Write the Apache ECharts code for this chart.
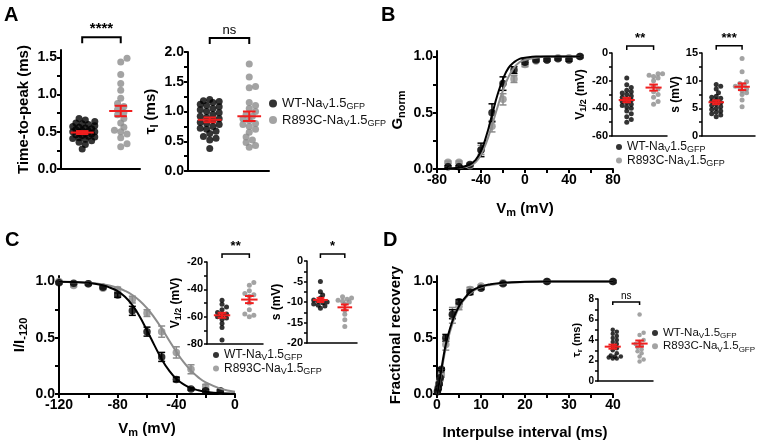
<!DOCTYPE html>
<html>
<head>
<meta charset="utf-8">
<script src="https://cdn.jsdelivr.net/npm/echarts@6/dist/echarts.min.js"></script>
<style>
  html, body { margin: 0; padding: 0; background: #fff; }
  #chart { width: 760px; height: 444px; }
</style>
</head>
<body>
<div id="chart"></div>
<script>
const FONT = '"Liberation Sans", Arial, sans-serif';
const BLACK = '#000000';
const GRAY = '#8c8c8c';
const RED = '#f01e1e';
const groups = ['WT', 'R893C'];

// ---- A: time-to-peak and tau_I (ms) ----
const ttpWT = [0.27, 0.33, 0.36, 0.38, 0.40, 0.41, 0.42, 0.43, 0.44, 0.45, 0.46, 0.47, 0.48, 0.49, 0.50,
  0.50, 0.51, 0.52, 0.53, 0.54, 0.55, 0.56, 0.57, 0.58, 0.60, 0.61, 0.62, 0.64, 0.66, 0.68];
const ttpR = [1.49, 1.44, 1.27, 1.15, 1.06, 0.95, 0.88, 0.84, 0.80, 0.76, 0.73, 0.68, 0.62, 0.56, 0.52,
  0.50, 0.47, 0.42, 0.34, 0.30];
const ttpMean = [0.49, 0.78];
const ttpSem = [0.02, 0.07];
const tauIWT = [1.20, 1.18, 1.17, 1.15, 1.12, 1.10, 1.08, 1.05, 1.03, 1.00, 0.98, 0.95, 0.92, 0.90, 0.88,
  0.85, 0.82, 0.80, 0.78, 0.75, 0.72, 0.70, 0.67, 0.63, 0.58, 0.55, 0.52, 0.38];
const tauIR = [1.80, 1.58, 1.42, 1.40, 1.15, 1.10, 1.05, 1.00, 0.95, 0.92, 0.88, 0.85, 0.80, 0.78, 0.75,
  0.70, 0.65, 0.57, 0.52, 0.48, 0.43, 0.40];
const tauIMean = [0.86, 0.92];
const tauISem = [0.04, 0.08];

// ---- B: activation ----
const actV = [-70, -60, -50, -40, -30, -20, -10, 0, 10, 20, 30, 40, 50];
const actWT = [0.02, 0.02, 0.04, 0.17, 0.50, 0.76, 0.88, 0.95, 0.97, 0.97, 0.98, 0.97, 1.00];
const actWTerr = [0.01, 0.01, 0.01, 0.06, 0.08, 0.06, 0.03, 0.02, 0.01, 0.01, 0.01, 0.01, 0.01];
const actR = [0.06, 0.06, 0.03, 0.17, 0.38, 0.62, 0.80, 0.93, 0.96, 0.97, 0.99, 0.99, 1.00];
const actRerr = [0.01, 0.01, 0.01, 0.04, 0.05, 0.05, 0.03, 0.02, 0.01, 0.01, 0.01, 0.01, 0.01];
const actFitV = [-70, -60, -50, -45, -40, -35, -30, -25, -20, -15, -10, -5, 0, 10, 20, 30, 40, 50];
const actFitWT = [0.005, 0.012, 0.04, 0.08, 0.16, 0.30, 0.48, 0.66, 0.80, 0.90, 0.95, 0.98, 0.99, 1.0, 1.0, 1.0, 1.0, 1.0];
const actFitR = [0.004, 0.01, 0.03, 0.06, 0.13, 0.24, 0.39, 0.55, 0.70, 0.82, 0.90, 0.95, 0.97, 0.99, 1.0, 1.0, 1.0, 1.0];
const actV12WT = [-18, -23, -25, -27, -28, -29, -30, -31, -32, -33, -34, -35, -36, -37, -38, -39, -40, -42, -44, -46, -48, -50];
const actV12R = [-15, -15, -16, -17, -18, -20, -24, -26, -28, -30, -32, -35, -37];
const actV12Mean = [-34, -25];
const actV12Sem = [1.6, 2.2];
const actSWT = [9.3, 9.0, 8.5, 7.8, 7.2, 7.0, 6.8, 6.5, 6.3, 6.0, 5.8, 5.5, 5.3, 5.0, 4.8, 4.5, 4.3, 4.0, 3.8, 3.5];
const actSR = [14.0, 11.6, 9.8, 9.5, 9.2, 9.0, 8.8, 8.5, 8.2, 7.8, 7.5, 6.5, 5.3];
const actSMean = [6.1, 8.9];
const actSSem = [0.35, 0.6];

// ---- C: steady-state inactivation ----
const inaV = [-120, -110, -100, -90, -80, -70, -60, -50, -40, -30, -20, -10];
const inaWT = [0.99, 0.985, 0.98, 0.95, 0.88, 0.74, 0.555, 0.33, 0.13, 0.045, 0.03, 0.027];
const inaWTerr = [0.01, 0.01, 0.01, 0.01, 0.02, 0.04, 0.04, 0.04, 0.02, 0.01, 0.01, 0.01];
const inaR = [1.0, 0.965, 0.98, 0.94, 0.93, 0.84, 0.72, 0.555, 0.37, 0.22, 0.065, 0.03];
const inaRerr = [0.01, 0.01, 0.01, 0.01, 0.02, 0.03, 0.03, 0.05, 0.05, 0.04, 0.02, 0.01];
const inaFitV = [-120, -110, -100, -90, -85, -80, -75, -70, -65, -60, -55, -50, -45, -40, -35, -30, -25, -20, -10, 0];
const inaFitWT = [0.999, 0.996, 0.989, 0.968, 0.945, 0.915, 0.865, 0.79, 0.69, 0.565, 0.435, 0.31, 0.21, 0.135, 0.085, 0.053, 0.033, 0.02, 0.007, 0.003];
const inaFitR = [0.998, 0.995, 0.989, 0.975, 0.963, 0.944, 0.918, 0.881, 0.83, 0.763, 0.68, 0.584, 0.479, 0.376, 0.283, 0.208, 0.148, 0.104, 0.048, 0.021];
const inaV12WT = [-48, -51, -53, -55, -57, -58, -59, -60, -61, -62, -65, -68, -77];
const inaV12R = [-35, -37, -41, -43, -44, -45, -50, -55, -58, -59, -60];
const inaV12Mean = [-59, -47.5];
const inaV12Sem = [1.8, 2.6];
const inaSWT = [-5, -7.5, -8.3, -9, -9.5, -9.8, -10, -10.2, -10.5, -10.8, -11, -11.5];
const inaSR = [-8.7, -9, -9.3, -9.6, -9.8, -10, -10.5, -12, -13, -14.3, -16];
const inaSMean = [-9.5, -11.3];
const inaSSem = [0.5, 0.7];

// ---- D: recovery from inactivation ----
const recT = [0.1, 0.3, 0.5, 0.7, 1, 2, 3.5, 5, 7.5, 10, 15, 25, 40];
const recWT = [0.02, 0.05, 0.09, 0.145, 0.22, 0.50, 0.71, 0.82, 0.905, 0.94, 0.98, 1.0, 1.0];
const recWTerr = [0.01, 0.01, 0.01, 0.01, 0.01, 0.03, 0.04, 0.02, 0.02, 0.01, 0.01, 0.01, 0.01];
const recR = [0.03, 0.06, 0.10, 0.13, 0.17, 0.44, 0.70, 0.78, 0.93, 0.96, 0.99, 1.0, 1.0];
const recRerr = [0.01, 0.01, 0.01, 0.01, 0.02, 0.05, 0.07, 0.03, 0.02, 0.01, 0.01, 0.01, 0.01];
const recFitT = [0.1, 0.5, 1, 1.5, 2, 3, 4, 5, 6, 8, 10, 12, 15, 20, 25, 40];
const recFitWT = [0.0, 0.10, 0.22, 0.34, 0.44, 0.59, 0.70, 0.78, 0.84, 0.92, 0.955, 0.975, 0.99, 0.998, 1.0, 1.0];
const recFitR = [0.0, 0.09, 0.20, 0.31, 0.41, 0.56, 0.68, 0.77, 0.83, 0.91, 0.95, 0.97, 0.985, 0.997, 1.0, 1.0];
const tauRWT = [5.0, 4.8, 4.6, 4.4, 4.2, 4.0, 3.8, 3.6, 3.4, 3.2, 3.0, 2.7, 2.5, 2.4, 2.4, 2.3, 2.2, 2.2];
const tauRR = [6.5, 4.7, 4.5, 4.0, 3.8, 3.6, 3.5, 3.3, 3.1, 2.9, 2.7, 2.4, 2.1, 1.9];
const tauRMean = [3.35, 3.65];
const tauRSem = [0.2, 0.3];

const grids = [], xAxes = [], yAxes = [], series = [];

function rich(fs, bold) {
  const w = bold ? 'bold' : 'normal';
  const sub = Math.round(fs * 0.72);
  return {
    n: { fontSize: fs, fontWeight: w, fontFamily: FONT, color: '#000', lineHeight: fs + 3, verticalAlign: 'middle' },
    s: { fontSize: sub, fontWeight: w, fontFamily: FONT, color: '#000', lineHeight: sub, verticalAlign: 'bottom' }
  };
}

function steps(min, max, step) {
  const out = [];
  const start = Math.ceil(min / step - 1e-9) * step;
  for (let v = start; v <= max + 1e-9; v += step) out.push(Math.round(v * 1000) / 1000);
  return out;
}

function axis(gi, c) {
  const lw = c.lw || 2;
  const a = {
    gridIndex: gi, type: 'value', min: c.min, max: c.max,
    axisLine: { show: true, onZero: false, lineStyle: { color: '#000', width: lw } },
    splitLine: { show: false },
    axisTick: { show: !!c.major, length: c.tl || 4, lineStyle: { color: '#000', width: lw } },
    axisLabel: {
      show: !!c.major, fontSize: c.fs || 14, fontWeight: 'bold', fontFamily: FONT, color: '#000',
      margin: c.margin || 4, formatter: v => v.toFixed(c.dec || 0)
    }
  };
  if (c.major) {
    a.axisTick.customValues = steps(c.min, c.max, c.minor);
    a.axisLabel.customValues = steps(c.min, c.max, c.major);
  }
  if (c.name) {
    a.name = c.name;
    a.nameLocation = 'middle';
    a.nameGap = c.gap;
    a.nameTextStyle = { fontSize: c.nfs, fontWeight: 'bold', fontFamily: FONT, color: '#000', rich: rich(c.nfs, true) };
  }
  return a;
}

function addGrid(box, xc, yc) {
  const gi = grids.length;
  grids.push({ left: box[0], top: box[1], width: box[2], height: box[3] });
  xAxes.push(axis(gi, xc));
  yAxes.push(axis(gi, yc));
  return gi;
}

// beeswarm layout of one column (horizontal offsets only, values unchanged)
function swarm(values, center, pxX, pxY, d) {
  const order = values.map((v, i) => i).sort((a, b) => values[a] - values[b]);
  const placed = [];
  const out = new Array(values.length);
  const step = d * 0.45, need = d * 0.72, maxK = 7;
  order.forEach(i => {
    const y = values[i] * pxY;
    let best = 0, bestGap = -1;
    for (let k = 0; k <= maxK; k++) {
      const off = (k % 2 ? 1 : -1) * Math.ceil(k / 2) * step;
      const gap = placed.reduce((m, p) => Math.min(m, Math.hypot(p[0] - off, p[1] - y)), Infinity);
      if (gap >= need) { best = off; bestGap = gap; break; }
      if (gap > bestGap) { best = off; bestGap = gap; }
    }
    placed.push([best, y]);
    out[i] = [center + best / pxX, values[i]];
  });
  return out;
}

function meanSem(gi, means, sems, lw) {
  return {
    type: 'custom', xAxisIndex: gi, yAxisIndex: gi, z: 10, silent: true,
    data: means.map((m, i) => [i + 1, m, sems[i]]),
    renderItem(params, api) {
      const x = api.value(0), m = api.value(1), s = api.value(2);
      const c = api.coord([x, m]), hi = api.coord([x, m + s]), lo = api.coord([x, m - s]);
      const u = api.size([1, 0])[0];
      const mw = u * 0.3, cw = u * 0.16;
      const st = { stroke: RED, lineWidth: lw };
      return {
        type: 'group', children: [
          { type: 'line', shape: { x1: c[0] - mw, y1: c[1], x2: c[0] + mw, y2: c[1] }, style: st },
          { type: 'line', shape: { x1: c[0], y1: hi[1], x2: c[0], y2: lo[1] }, style: st },
          { type: 'line', shape: { x1: c[0] - cw, y1: hi[1], x2: c[0] + cw, y2: hi[1] }, style: st },
          { type: 'line', shape: { x1: c[0] - cw, y1: lo[1], x2: c[0] + cw, y2: lo[1] }, style: st }
        ]
      };
    }
  };
}

function bracket(gi, yv, leg, label, fs, bold, lw) {
  return {
    type: 'custom', xAxisIndex: gi, yAxisIndex: gi, silent: true, z: 5,
    data: [[1, 2, yv]],
    renderItem(params, api) {
      const a = api.coord([api.value(0), api.value(2)]);
      const b = api.coord([api.value(1), api.value(2)]);
      return {
        type: 'group', children: [
          { type: 'polyline', shape: { points: [[a[0], a[1] + leg], [a[0], a[1]], [b[0], b[1]], [b[0], b[1] + leg]] },
            style: { stroke: '#000', lineWidth: lw, fill: null } },
          { type: 'text', x: (a[0] + b[0]) / 2, y: a[1] - 1,
            style: { text: label, fontSize: fs, fontWeight: bold ? 'bold' : 'normal', fontFamily: FONT,
              fill: '#000', align: 'center', verticalAlign: 'bottom' } }
        ]
      };
    }
  };
}

function dotPanel(box, yc, wt, r, mean, sem, dot, br) {
  const gi = addGrid(box, { min: 0.45, max: 2.5, lw: yc.lw }, yc);
  const pxX = box[2] / 2.05, pxY = box[3] / (yc.max - yc.min);
  series.push({ name: 'WT', type: 'scatter', xAxisIndex: gi, yAxisIndex: gi, symbolSize: dot,
    itemStyle: { color: BLACK }, data: swarm(wt, 1, pxX, pxY, dot) });
  series.push({ name: 'R893C', type: 'scatter', xAxisIndex: gi, yAxisIndex: gi, symbolSize: dot,
    itemStyle: { color: GRAY }, data: swarm(r, 2, pxX, pxY, dot) });
  series.push(meanSem(gi, mean, sem, 2));
  series.push(bracket(gi, br.y, br.leg, br.text, br.fs, br.bold, yc.lw || 2));
}

function errBars(gi, xs, ys, es, color) {
  return {
    type: 'custom', xAxisIndex: gi, yAxisIndex: gi, silent: true,
    data: xs.map((x, i) => [x, ys[i], es[i]]),
    renderItem(params, api) {
      const x = api.value(0), y = api.value(1), e = api.value(2);
      const hi = api.coord([x, y + e]), lo = api.coord([x, y - e]);
      const st = { stroke: color, lineWidth: 1.5 };
      return {
        type: 'group', children: [
          { type: 'line', shape: { x1: hi[0], y1: hi[1], x2: lo[0], y2: lo[1] }, style: st },
          { type: 'line', shape: { x1: hi[0] - 3.5, y1: hi[1], x2: hi[0] + 3.5, y2: hi[1] }, style: st },
          { type: 'line', shape: { x1: lo[0] - 3.5, y1: lo[1], x2: lo[0] + 3.5, y2: lo[1] }, style: st }
        ]
      };
    }
  };
}

function curvePanel(box, xc, yc, pts, fits) {
  const gi = addGrid(box, xc, yc);
  // gray first, black on top
  [[1, GRAY], [0, BLACK]].forEach(([k, col]) => {
    series.push({ name: groups[k], type: 'line', xAxisIndex: gi, yAxisIndex: gi, smooth: true, showSymbol: false,
      lineStyle: { color: col, width: 2 }, itemStyle: { color: col },
      data: fits.x.map((x, i) => [x, fits.y[k][i]]) });
    series.push(errBars(gi, pts.x, pts.y[k], pts.e[k], col));
    series.push({ name: groups[k], type: 'scatter', xAxisIndex: gi, yAxisIndex: gi, symbolSize: 7.5,
      itemStyle: { color: col }, data: pts.x.map((x, i) => [x, pts.y[k][i]]) });
  });
}

const fracAxis = (name, gap) => ({ min: 0, max: 1.05, major: 0.5, minor: 0.25, dec: 1, fs: 14, name, gap, nfs: 15 });

// A
dotPanel([61, 50, 79, 119],
  { min: 0, max: 1.6, major: 0.5, minor: 0.25, dec: 1, fs: 14, name: 'Time-to-peak (ms)', gap: 30, nfs: 15 },
  ttpWT, ttpR, ttpMean, ttpSem, 7, { y: 1.77, leg: 6, text: '****', fs: 15, bold: true });
dotPanel([188, 52, 81, 119],
  { min: 0, max: 2, major: 0.5, minor: 0.25, dec: 1, fs: 14, name: '{n|τ}{s|I}{n| (ms)}', gap: 28, nfs: 15 },
  tauIWT, tauIR, tauIMean, tauISem, 7, { y: 2.235, leg: 6, text: 'ns', fs: 13, bold: false });

// B
curvePanel([437, 51, 176, 118],
  { min: -80, max: 80, major: 40, minor: 20, fs: 14, name: '{n|V}{s|m}{n| (mV)}', gap: 31, nfs: 15 },
  fracAxis('{n|G}{s|norm}', 30),
  { x: actV, y: [actWT, actR], e: [actWTerr, actRerr] },
  { x: actFitV, y: [actFitWT, actFitR] });
dotPanel([612, 53, 55, 83],
  { min: -60, max: 0, major: 20, minor: 10, fs: 11, lw: 1.5, tl: 3, name: '{n|V}{s|1/2}{n| (mV)}', gap: 22, nfs: 12 },
  actV12WT, actV12R, actV12Mean, actV12Sem, 5, { y: 5, leg: 4, text: '**', fs: 13, bold: true });
dotPanel([702, 53, 53, 83],
  { min: 0, max: 15, major: 5, minor: 2.5, fs: 11, lw: 1.5, tl: 3, name: 's (mV)', gap: 18, nfs: 12 },
  actSWT, actSR, actSMean, actSSem, 5, { y: 16.3, leg: 4, text: '***', fs: 13, bold: true });

// C
curvePanel([59, 276, 176, 118],
  { min: -120, max: 0, major: 40, minor: 20, fs: 14, name: '{n|V}{s|m}{n| (mV)}', gap: 26, nfs: 15 },
  fracAxis('{n|I/I}{s|-120}', 30),
  { x: inaV, y: [inaWT, inaR], e: [inaWTerr, inaRerr] },
  { x: inaFitV, y: [inaFitWT, inaFitR] });
dotPanel([207, 262, 56, 82],
  { min: -80, max: -20, major: 20, minor: 10, fs: 11, lw: 1.5, tl: 3, name: '{n|V}{s|1/2}{n| (mV)}', gap: 22, nfs: 12 },
  inaV12WT, inaV12R, inaV12Mean, inaV12Sem, 5, { y: -14.1, leg: 4, text: '**', fs: 13, bold: true });
dotPanel([307, 261, 50, 82],
  { min: -20, max: 0, major: 5, minor: 2.5, fs: 11, lw: 1.5, tl: 3, name: 's (mV)', gap: 24, nfs: 12 },
  inaSWT, inaSR, inaSMean, inaSSem, 5, { y: 1.7, leg: 4, text: '*', fs: 13, bold: true });

// D
curvePanel([437, 276, 176, 118],
  { min: 0, max: 40, major: 10, minor: 5, fs: 14, name: 'Interpulse interval (ms)', gap: 31, nfs: 15 },
  fracAxis('Fractional recovery', 34),
  { x: recT, y: [recWT, recR], e: [recWTerr, recRerr] },
  { x: recFitT, y: [recFitWT, recFitR] });
dotPanel([598, 299, 55, 82],
  { min: 0, max: 8, major: 2, minor: 1, fs: 10, lw: 1.5, tl: 3, name: '{n|τ}{s|r}{n| (ms)}', gap: 14, nfs: 11 },
  tauRWT, tauRR, tauRMean, tauRSem, 4.5, { y: 7.7, leg: 3, text: 'ns', fs: 10, bold: false });

function legendAt(left, top, gap, fs, icon) {
  const sub = Math.round(fs * 0.72);
  return {
    orient: 'vertical', left, top, itemGap: gap, itemWidth: icon, itemHeight: icon, icon: 'circle',
    selectedMode: false, data: groups, padding: 0,
    formatter: name => '{n|' + name + '-Na}{s|V}{n|1.5}{s|GFP}',
    textStyle: {
      rich: {
        n: { fontSize: fs, fontFamily: FONT, color: '#111', lineHeight: fs + 3, verticalAlign: 'middle' },
        s: { fontSize: sub, fontFamily: FONT, color: '#111', lineHeight: sub, verticalAlign: 'bottom' }
      }
    }
  };
}

const letter = (text, left, top) => ({
  type: 'text', left, top, style: { text, fontSize: 20, fontWeight: 'bold', fontFamily: FONT, fill: '#000' }
});

const chart = echarts.init(document.getElementById('chart'), null, { renderer: 'canvas' });
chart.setOption({
  animation: false,
  backgroundColor: '#fff',
  grid: grids,
  xAxis: xAxes,
  yAxis: yAxes,
  legend: [
    legendAt(269, 97, 2, 13, 8),
    legendAt(616, 141, 0, 12, 6),
    legendAt(213, 349, 0, 12, 6),
    legendAt(652, 327, 0, 11.5, 6)
  ],
  graphic: [
    letter('A', 4, 5),
    letter('B', 381, 5),
    letter('C', 5, 230),
    letter('D', 383, 230)
  ],
  series
});
</script>
</body>
</html>
